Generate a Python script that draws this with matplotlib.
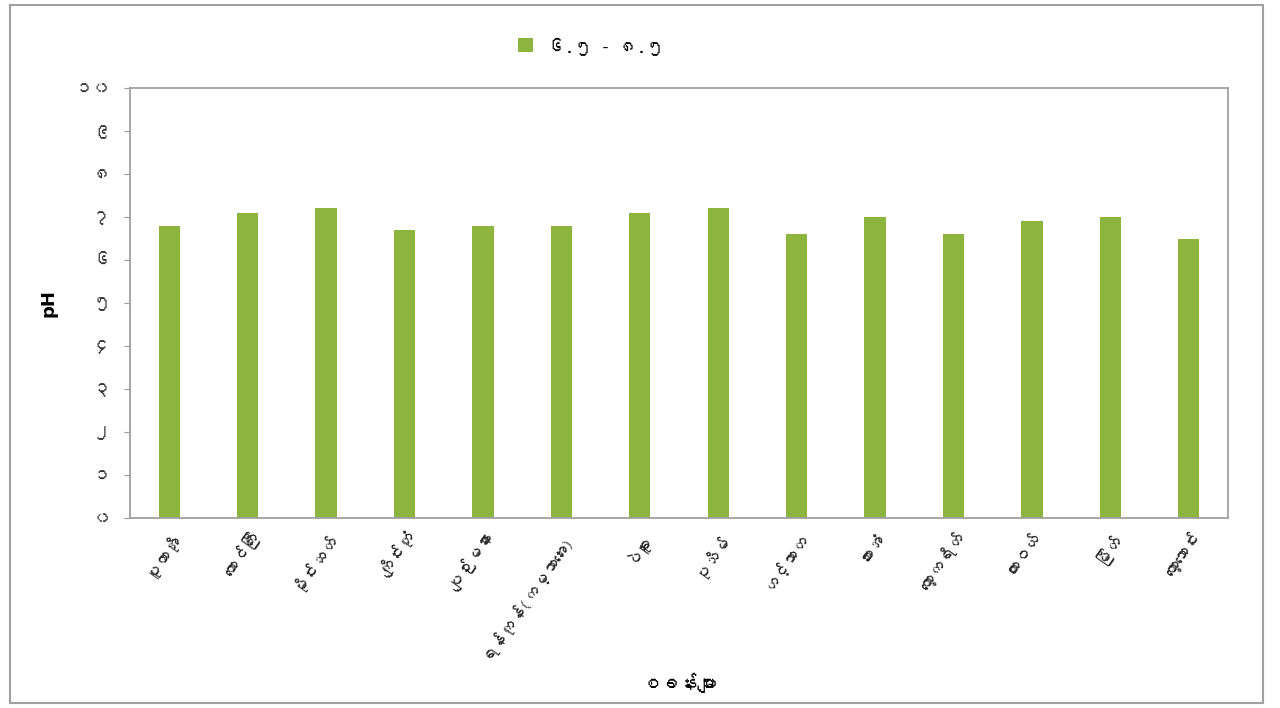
import matplotlib
matplotlib.use("Agg")
import matplotlib.pyplot as plt
from matplotlib import font_manager
from matplotlib.ft2font import FT2Font
from matplotlib.patches import Rectangle

# stations and pH readings
stations = ["ပူတာအို", "တောင်ကြီး", "မိုင်းဆတ်", "ကျိုင်းတုံ", "ပျဉ်းမနား",
            "ရန်ကုန်(ကမ္ဘာအေး)", "ပဲခူး", "ပုသိမ်", "ဟင်္သာတ", "ဘားအံ",
            "ကော့ကရိတ်", "ထားဝယ်", "မြိတ်", "ကော့သောင်း"]
ph = [6.8, 7.1, 7.2, 6.7, 6.8, 6.8, 7.1, 7.2, 6.6, 7.0, 6.6, 6.9, 7.0, 6.5]
ytick_vals = list(range(0, 11))
ytick_labels = ["၀", "၁", "၂", "၃", "၄", "၅", "၆", "၇", "၈", "၉", "၁၀"]
legend_label = "၆.၅ - ၈.၅"
xlabel = "စခန်းများ"
ylabel = "pH"

# look for any installed font that has myanmar glyphs
mm_fonts = []
for f in font_manager.fontManager.ttflist:
    try:
        if 0x1000 in FT2Font(f.fname).get_charmap():
            if f.name not in mm_fonts:
                mm_fonts.append(f.name)
    except Exception:
        pass
families = mm_fonts + ["DejaVu Sans"]
plt.rcParams["font.family"] = families

green = "#8db43f"

fig = plt.figure(figsize=(12.8, 7.08), dpi=100)
ax = fig.add_axes([130 / 1280, 1 - 518 / 708, 1098 / 1280, 430 / 708])

x = range(len(stations))
ax.bar(x, ph, width=0.27, color=green, label=legend_label, zorder=2)

ax.set_xlim(-0.5, len(stations) - 0.5)
ax.set_ylim(0, 10)
ax.set_yticks(ytick_vals)
ax.set_yticklabels(ytick_labels, fontsize=13, color="#333333")
ax.set_xticks(list(x))
ax.set_xticklabels(stations, rotation=55, ha="right", rotation_mode="anchor",
                   fontsize=12, color="#222222")
ax.tick_params(axis="x", length=0, pad=8)
ax.tick_params(axis="y", length=4, color="#999999", pad=10)

for s in ax.spines.values():
    s.set_color("#a0a0a0")
    s.set_linewidth(1.3)

ax.set_xlabel(xlabel, fontsize=14, fontweight="bold", labelpad=8)
ax.set_ylabel(ylabel, fontsize=13, fontweight="bold", labelpad=12,
              family=["DejaVu Sans"])

ax.legend(loc="lower center", bbox_to_anchor=(0.42, 1.04), frameon=False,
          fontsize=13, handlelength=0.8, handleheight=0.8, handletextpad=0.8)

# outer frame around the whole chart
fig.patches.append(Rectangle((10 / 1280, 5 / 708), 1253 / 1280, 698 / 708,
                             transform=fig.transFigure, fill=False,
                             edgecolor="#a0a0a0", linewidth=1.5))

fig.savefig("out.png", dpi=100)
plt.close(fig)
